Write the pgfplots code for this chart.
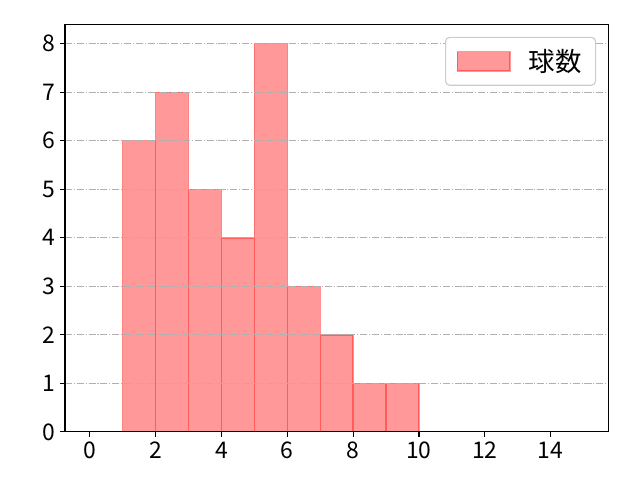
\documentclass[border=0pt]{standalone}
\usepackage{fontspec}
\setmainfont{Noto Sans CJK JP}
\usepackage{pgfplots}
\pgfplotsset{compat=1.18}
\definecolor{gridgray}{RGB}{176,176,176}
\definecolor{legframe}{RGB}{204,204,204}

\begin{document}
\begin{tikzpicture}
\begin{axis}[
  name=ax,
  scale only axis,
  width=391.2pt, height=293.5pt,
  xmin=-0.75, xmax=15.75,
  ymin=0, ymax=8.4,
  xtick={0,2,...,14},
  ytick={0,1,...,8},
  tick align=outside,
  tick pos=left,
  major tick length=3.5pt,
  tick style={black, line width=0.8pt},
  axis line style={line width=0.8pt},
  /pgf/number format/assume math mode=true,
  tick label style={font=\fontsize{16.5}{19}\selectfont},
  ymajorgrids,
  grid style={gridgray, line width=0.8pt, dash pattern=on 5.1pt off 1.3pt on 0.8pt off 1.3pt},
  axis on top,
  legend style={
    at={(1,1)}, anchor=north east, xshift=-8.8pt, yshift=-9pt,
    draw=legframe, rounded corners=3pt, line width=0.8pt,
    font=\fontsize{19}{22}\selectfont,
    inner xsep=8pt, inner ysep=6.5pt,
  },
  legend cell align=left,
  legend image code/.code={\draw[#1, sharp corners] (0pt,-7pt) rectangle (38pt,7pt);},
]
\addplot[ybar interval, fill=red, fill opacity=0.4, draw=red, draw opacity=0.4, line width=1pt]
  coordinates {(1,6) (2,7) (3,5) (4,4) (5,8) (6,3) (7,2) (8,1) (9,1) (10,1)};
\addlegendentry{\hspace{11pt}球数}
\end{axis}
\pgfresetboundingbox
\path (ax.south west) ++(-46.8pt,-34.6pt) rectangle ([shift={(22.8pt,17.5pt)}]ax.north east);
\end{tikzpicture}
\end{document}
